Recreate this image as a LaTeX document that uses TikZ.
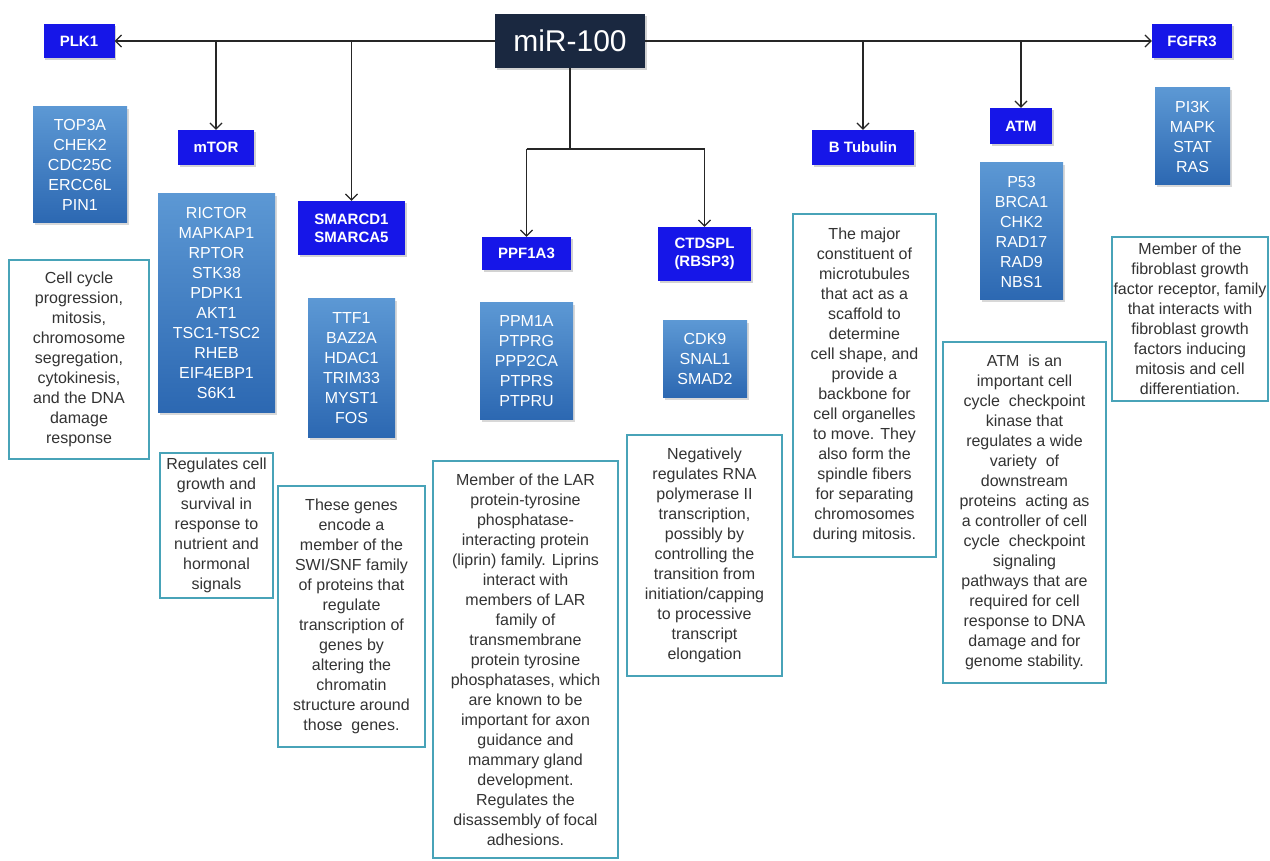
\documentclass[tikz,border=0pt]{standalone}
\usepackage{fontspec}
\setmainfont{Liberation Sans}
\usetikzlibrary{arrows.meta}
\usetikzlibrary{shadows}

\definecolor{navybox}{RGB}{26,40,64}
\definecolor{labelblue}{RGB}{22,22,232}
\definecolor{genetop}{RGB}{92,152,212}
\definecolor{genebot}{RGB}{44,104,178}
\definecolor{tealline}{RGB}{72,163,184}

\tikzset{
  mirbox/.style={fill=navybox, text=white, font=\fontsize{30}{34}\selectfont, inner sep=0pt,
    drop shadow={shadow xshift=1.5pt, shadow yshift=-2pt, opacity=0.35}},
  tgtbox/.style={fill=labelblue, text=white, font=\fontsize{15}{18}\selectfont\bfseries, inner sep=0pt, align=center,
    drop shadow={shadow xshift=1.5pt, shadow yshift=-2pt, opacity=0.35}},
  genebox/.style={top color=genetop, bottom color=genebot, text=white, font=\fontsize{16}{20}\selectfont, inner sep=0pt, align=center,
    drop shadow={shadow xshift=1.5pt, shadow yshift=-2.5pt, opacity=0.3}},
  notebox/.style={draw=tealline, line width=2.5pt, fill=white, text=black!80, font=\fontsize{16}{20}\selectfont, inner sep=0pt, align=center},
  linkline/.style={draw=black!85, line width=1.2pt},
  linkarrow/.style={linkline, -{Straight Barb[length=6pt,width=12pt]}}
}

\begin{document}
\begin{tikzpicture}[x=1pt,y=-1pt]
\useasboundingbox[fill=white] (0,0) rectangle (1270,861);

\node[mirbox, minimum width=150pt, minimum height=54pt] (mir) at (570,41) {miR-100};

\node[tgtbox, minimum width=71pt, minimum height=34pt] (plk1) at (79,41) {PLK1};
\node[tgtbox, minimum width=80pt, minimum height=34pt] (fgfr3) at (1192,41) {FGFR3};
\node[tgtbox, minimum width=76pt, minimum height=35pt] (mtor) at (216,147.5) {mTOR};
\node[tgtbox, minimum width=107pt, minimum height=54pt] (smarc) at (351.5,228) {SMARCD1\\SMARCA5};
\node[tgtbox, minimum width=89pt, minimum height=33pt] (ppf) at (526.5,253.5) {PPF1A3};
\node[tgtbox, minimum width=93pt, minimum height=54pt] (ctd) at (704.5,254) {CTDSPL\\(RBSP3)};
\node[tgtbox, minimum width=102pt, minimum height=35pt] (btub) at (863,147.5) {B Tubulin};
\node[tgtbox, minimum width=62pt, minimum height=36pt] (atm) at (1021,126) {ATM};

\node[genebox, minimum width=94pt, minimum height=116pt] (plkgenes) at (80,165) {TOP3A\\CHEK2\\CDC25C\\ERCC6L\\PIN1};
\node[genebox, minimum width=117pt, minimum height=218pt] (mtorgenes) at (216.5,303) {RICTOR\\MAPKAP1\\RPTOR\\STK38\\PDPK1\\AKT1\\TSC1-TSC2\\RHEB\\EIF4EBP1\\S6K1};
\node[genebox, minimum width=87pt, minimum height=138pt] (smarcgenes) at (351.5,368) {TTF1\\BAZ2A\\HDAC1\\TRIM33\\MYST1\\FOS};
\node[genebox, minimum width=93pt, minimum height=116pt] (ppfgenes) at (526.5,361) {PPM1A\\PTPRG\\PPP2CA\\PTPRS\\PTPRU};
\node[genebox, minimum width=84pt, minimum height=76pt] (ctdgenes) at (705,359) {CDK9\\SNAL1\\SMAD2};
\node[genebox, minimum width=83pt, minimum height=137pt] (atmgenes) at (1021.5,231.5) {P53\\BRCA1\\CHK2\\RAD17\\RAD9\\NBS1};
\node[genebox, minimum width=75pt, minimum height=97pt] (fgfrgenes) at (1192.5,136.5) {PI3K\\MAPK\\STAT\\RAS};

\node[notebox, minimum width=140pt, minimum height=199pt] (plknote) at (79,359.5) {Cell cycle\\progression,\\mitosis,\\chromosome\\segregation,\\cytokinesis,\\and the DNA\\damage\\response};
\node[notebox, minimum width=113pt, minimum height=145pt] (mtornote) at (216.5,525.5) {Regulates cell\\growth and\\survival in\\response to\\nutrient and\\hormonal\\signals};
\node[notebox, minimum width=147pt, minimum height=261pt] (smarcnote) at (351.5,616.5) {These genes\\encode a\\member of the\\SWI/SNF family\\of proteins that\\regulate\\transcription of\\genes by\\altering the\\chromatin\\structure around\\those~ genes.};
\node[notebox, minimum width=185pt, minimum height=397pt] (ppfnote) at (525.5,659.5) {Member of the LAR\\protein-tyrosine\\phosphatase-\\interacting protein\\(liprin) family. Liprins\\interact with\\members of LAR\\family of\\transmembrane\\protein tyrosine\\phosphatases, which\\are known to be\\important for axon\\guidance and\\mammary gland\\development.\\Regulates the\\disassembly of focal\\adhesions.};
\node[notebox, minimum width=155pt, minimum height=241pt] (ctdnote) at (704.5,555.5) {Negatively\\regulates RNA\\polymerase II\\transcription,\\possibly by\\controlling the\\transition from\\initiation/capping\\to processive\\transcript\\elongation};
\node[notebox, minimum width=143pt, minimum height=343pt] (btubnote) at (864.5,385.5) {The major\\constituent of\\microtubules\\that act as a\\scaffold to\\determine\\cell shape, and\\provide a\\backbone for\\cell organelles\\to move. They\\also form the\\spindle fibers\\for separating\\chromosomes\\during mitosis.};
\node[notebox, minimum width=163pt, minimum height=341pt] (atmnote) at (1024.5,512.5) {ATM~ is an\\important cell\\cycle~ checkpoint\\kinase that\\regulates a wide\\variety~ of\\downstream\\proteins~ acting as\\a controller of cell\\cycle~ checkpoint\\signaling\\pathways that are\\required for cell\\response to DNA\\damage and for\\genome stability.};
\node[notebox, minimum width=156pt, minimum height=164pt] (fgfrnote) at (1190,319) {Member of the\\fibroblast growth\\factor receptor, family\\that interacts with\\fibroblast growth\\factors inducing\\mitosis and cell\\differentiation.};

\draw[linkarrow] (mir.west) -- (plk1.east);
\draw[linkarrow] (mir.east) -- (fgfr3.west);
\draw[linkarrow] (mir.west -| mtor.north) -- (mtor.north);
\draw[linkarrow] (mir.west -| smarc.north) -- (smarc.north);
\draw[linkarrow] (mir.east -| btub.north) -- (btub.north);
\draw[linkarrow] (mir.east -| atm.north) -- (atm.north);
\coordinate (fork) at (570,149);
\draw[linkline] (mir.south) -- (fork);
\draw[linkline] (fork -| ppf.north) -- (fork -| ctd.north);
\draw[linkarrow] (fork -| ppf.north) -- (ppf.north);
\draw[linkarrow] (fork -| ctd.north) -- (ctd.north);
\end{tikzpicture}
\end{document}
